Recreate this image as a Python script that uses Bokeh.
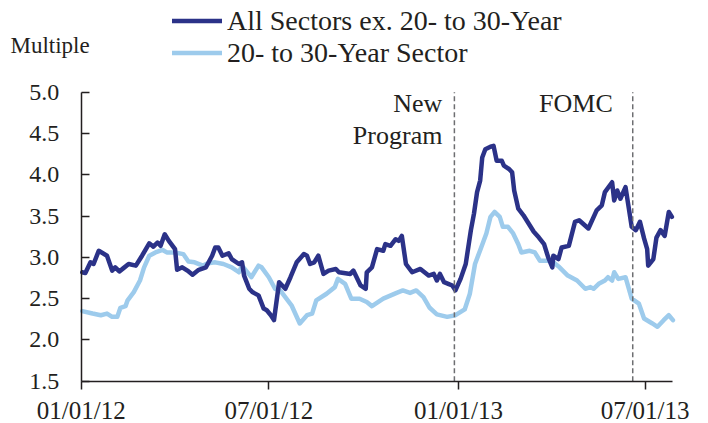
from datetime import datetime
import pandas as pd
from bokeh.plotting import figure
from bokeh.models import (Range1d, FixedTicker, DatetimeTickFormatter, Legend, LegendItem,
                          Label, NumeralTickFormatter)
from bokeh.embed import file_html
from bokeh.resources import INLINE

# ---------------- data ----------------
all_dates = [
    "2012-01-02", "2012-01-05", "2012-01-10", "2012-01-13", "2012-01-18", "2012-01-26", "2012-01-31",
    "2012-02-03", "2012-02-07", "2012-02-11", "2012-02-16", "2012-02-23", "2012-02-29",
    "2012-03-07", "2012-03-11", "2012-03-15", "2012-03-18", "2012-03-22", "2012-03-26",
    "2012-04-01", "2012-04-03", "2012-04-08", "2012-04-13", "2012-04-18", "2012-04-24",
    "2012-05-01", "2012-05-07", "2012-05-10", "2012-05-13", "2012-05-17", "2012-05-23", "2012-05-26",
    "2012-06-02", "2012-06-05", "2012-06-07", "2012-06-12", "2012-06-15", "2012-06-21", "2012-06-26", "2012-06-29",
    "2012-07-03", "2012-07-06", "2012-07-11", "2012-07-17", "2012-07-22", "2012-07-28",
    "2012-08-04", "2012-08-07", "2012-08-10", "2012-08-14", "2012-08-18", "2012-08-23", "2012-08-28",
    "2012-09-04", "2012-09-07", "2012-09-18", "2012-09-21", "2012-09-28",
    "2012-10-03", "2012-10-04", "2012-10-09", "2012-10-14", "2012-10-20", "2012-10-22", "2012-10-27",
    "2012-11-01", "2012-11-04", "2012-11-07", "2012-11-11", "2012-11-17", "2012-11-25",
    "2012-12-03", "2012-12-08", "2012-12-11", "2012-12-14", "2012-12-18", "2012-12-22", "2012-12-26", "2012-12-29",
    "2013-01-03", "2013-01-08", "2013-01-13", "2013-01-16", "2013-01-19", "2013-01-22", "2013-01-24", "2013-01-27",
    "2013-02-01", "2013-02-04", "2013-02-07", "2013-02-12", "2013-02-14", "2013-02-19", "2013-02-22", "2013-02-24", "2013-02-28",
    "2013-03-05", "2013-03-10", "2013-03-15", "2013-03-20", "2013-03-25", "2013-03-29",
    "2013-04-02", "2013-04-03", "2013-04-08", "2013-04-11", "2013-04-18", "2013-04-24", "2013-04-28",
    "2013-05-07", "2013-05-15", "2013-05-20", "2013-05-23", "2013-05-30",
    "2013-06-01", "2013-06-04", "2013-06-07", "2013-06-12", "2013-06-15", "2013-06-18", "2013-06-22", "2013-06-26", "2013-06-30",
    "2013-07-03", "2013-07-04", "2013-07-09", "2013-07-12", "2013-07-16", "2013-07-20", "2013-07-24", "2013-07-27",
]
all_values = [
    2.82, 2.81, 2.94, 2.92, 3.08, 3.02, 2.84,
    2.88, 2.83, 2.87, 2.92, 2.90, 3.02,
    3.17, 3.13, 3.18, 3.14, 3.28, 3.20,
    3.10, 2.85, 2.88, 2.84, 2.79, 2.85,
    2.88, 3.02, 3.12, 3.12, 3.02, 3.05, 2.98,
    2.92, 2.94, 2.78, 2.62, 2.58, 2.54, 2.38, 2.36,
    2.30, 2.24, 2.70, 2.62, 2.76, 2.94,
    3.04, 3.02, 2.92, 2.94, 3.02, 2.80, 2.84,
    2.86, 2.82, 2.80, 2.84, 2.66,
    2.62, 2.82, 2.88, 3.10, 3.08, 3.16, 3.14,
    3.22, 3.20, 3.26, 2.92, 2.82, 2.86,
    2.78, 2.80, 2.72, 2.80, 2.70, 2.68, 2.66, 2.60,
    2.74, 2.92, 3.33, 3.53, 3.79, 3.93, 4.21, 4.31,
    4.34, 4.35, 4.17, 4.17, 4.11, 4.07, 4.03, 3.81, 3.59,
    3.51, 3.41, 3.31, 3.24, 3.16, 3.00,
    2.88, 3.02, 2.98, 3.12, 3.14, 3.43, 3.45,
    3.35, 3.57, 3.63, 3.79, 3.91,
    3.69, 3.81, 3.71, 3.85, 3.61, 3.37, 3.33, 3.43, 3.23,
    3.10, 2.90, 2.98, 3.24, 3.33, 3.26, 3.55, 3.49,
]

sec_dates = [
    "2012-01-02", "2012-01-12", "2012-01-20", "2012-01-26", "2012-01-31",
    "2012-02-05", "2012-02-08", "2012-02-13", "2012-02-15", "2012-02-21", "2012-02-27",
    "2012-03-02", "2012-03-07", "2012-03-13", "2012-03-20", "2012-03-24",
    "2012-04-01", "2012-04-09", "2012-04-14", "2012-04-20", "2012-04-28",
    "2012-05-03", "2012-05-10", "2012-05-18", "2012-05-26",
    "2012-06-02", "2012-06-05", "2012-06-14", "2012-06-21", "2012-06-24",
    "2012-07-01", "2012-07-07", "2012-07-12", "2012-07-23", "2012-07-31",
    "2012-08-07", "2012-08-12", "2012-08-16", "2012-08-26",
    "2012-09-03", "2012-09-06", "2012-09-13", "2012-09-19", "2012-09-27",
    "2012-10-04", "2012-10-09", "2012-10-20",
    "2012-11-02", "2012-11-08", "2012-11-15", "2012-11-21", "2012-11-28",
    "2012-12-04", "2012-12-11", "2012-12-21", "2012-12-29",
    "2013-01-07", "2013-01-12", "2013-01-17", "2013-01-23", "2013-01-28",
    "2013-02-01", "2013-02-05", "2013-02-10", "2013-02-13", "2013-02-18", "2013-02-23", "2013-02-28",
    "2013-03-03", "2013-03-11", "2013-03-16", "2013-03-21", "2013-03-29",
    "2013-04-03", "2013-04-09", "2013-04-17", "2013-04-26",
    "2013-05-04", "2013-05-09", "2013-05-12", "2013-05-17", "2013-05-23", "2013-05-26", "2013-05-30",
    "2013-06-01", "2013-06-05", "2013-06-12", "2013-06-18", "2013-06-25", "2013-06-30",
    "2013-07-08", "2013-07-13", "2013-07-19", "2013-07-24", "2013-07-28",
]
sec_values = [
    2.35, 2.32, 2.30, 2.32, 2.28,
    2.28, 2.39, 2.41, 2.48, 2.58, 2.72,
    2.88, 3.02, 3.06, 3.09, 3.06,
    3.06, 3.04, 2.95, 2.94, 2.90,
    2.93, 2.94, 2.92, 2.88,
    2.82, 2.90, 2.76, 2.90, 2.88,
    2.76, 2.62, 2.60, 2.42, 2.20,
    2.30, 2.32, 2.48, 2.56,
    2.64, 2.74, 2.68, 2.50, 2.50,
    2.46, 2.41, 2.50,
    2.57, 2.60, 2.57, 2.60, 2.52,
    2.39, 2.31, 2.28, 2.30,
    2.37, 2.56, 2.92, 3.12, 3.29,
    3.49, 3.55, 3.49, 3.37, 3.37, 3.29, 3.16,
    3.06, 3.08, 3.06, 2.96, 2.96,
    2.94, 2.88, 2.78, 2.72,
    2.62, 2.64, 2.62, 2.68, 2.72, 2.76, 2.72,
    2.82, 2.74, 2.76, 2.50, 2.44, 2.26,
    2.20, 2.16, 2.24, 2.30, 2.24,
]

x_tick_dates = ["2012-01-01", "2012-07-01", "2013-01-01", "2013-07-01"]
x_axis_span = ["2012-01-01", "2013-07-27 12:00"]
y_ticks = [1.5, 2.0, 2.5, 3.0, 3.5, 4.0, 4.5, 5.0]
event_dates = ["2012-12-28", "2013-06-19"]
event_names = ["New\nProgram", "FOMC"]
label_all = "All Sectors ex. 20- to 30-Year"
label_sec = "20- to 30-Year Sector"
y_title = "Multiple"

DARK = "#2B3288"
LIGHT = "#9DCBEC"
TXT = "#231F20"
AX = "#231F20"
FONT = "Liberation Serif"
W, H = 708, 423

# The frame fills the whole canvas; the axes are pinned inside it so that the
# legend and the "Multiple" title (outside the axes box) are not clipped.
origin = pd.Timestamp(x_axis_span[0])
x_start = origin - pd.Timedelta(days=78.3)
x_end = origin + pd.Timedelta(days=608.5)
y_lo, y_hi = y_ticks[0], y_ticks[-1]

p = figure(width=W, height=H, x_axis_type="datetime", output_backend="svg",
           toolbar_location=None, tools="",
           x_range=Range1d(x_start, x_end), y_range=Range1d(0.989, 6.110),
           min_border=0)
p.outline_line_color = None
p.grid.visible = False
p.background_fill_color = "white"
p.border_fill_color = "white"

r_sec = p.line(pd.to_datetime(sec_dates), sec_values, line_color=LIGHT, line_width=4.5,
               line_join="round", line_cap="round")
r_all = p.line(pd.to_datetime(all_dates), all_values, line_color=DARK, line_width=4.5,
               line_join="round", line_cap="round")

ev = pd.to_datetime(event_dates)
p.segment(x0=ev, y0=[y_lo] * len(ev), x1=ev, y1=[y_hi] * len(ev),
          line_color="#6D6E71", line_width=1.5, line_dash="5 3")

p.add_layout(Label(x=ev[0], y=4.86, text="New", text_align="right", text_baseline="middle",
                   x_offset=-12, text_font=FONT, text_font_size="26px", text_color=TXT))
p.add_layout(Label(x=ev[0], y=4.48, text="Program", text_align="right", text_baseline="middle",
                   x_offset=-12, text_font=FONT, text_font_size="26px", text_color=TXT))
p.add_layout(Label(x=ev[1], y=4.86, text="FOMC", text_align="right", text_baseline="middle",
                   x_offset=-20, text_font=FONT, text_font_size="26px", text_color=TXT))

p.add_layout(Label(x=10, y=H - 45, x_units="screen", y_units="screen", text=y_title,
                   text_baseline="middle", text_font=FONT, text_font_size="23px", text_color=TXT))

# axes pinned at the data origin
p.xaxis.fixed_location = y_lo
p.yaxis.fixed_location = origin.value / 1e6
p.xaxis.bounds = (pd.Timestamp(x_axis_span[0]), pd.Timestamp(x_axis_span[1]))
p.yaxis.bounds = (y_lo, y_hi)
p.xaxis.ticker = FixedTicker(ticks=[pd.Timestamp(d).value / 1e6 for d in x_tick_dates])
fmt = "%m/%d/%y"
p.xaxis.formatter = DatetimeTickFormatter(milliseconds=fmt, seconds=fmt, minsec=fmt, minutes=fmt,
                                          hourmin=fmt, hours=fmt, days=fmt, months=fmt, years=fmt)
p.yaxis.ticker = FixedTicker(ticks=y_ticks)
p.yaxis.formatter = NumeralTickFormatter(format="0.0")
for ax in (p.xaxis, p.yaxis):
    ax.axis_line_color = AX
    ax.axis_line_width = 1.5
    ax.major_tick_line_color = AX
    ax.major_tick_line_width = 1.5
    ax.minor_tick_line_color = None
    ax.major_label_text_font = FONT
    ax.major_label_text_color = TXT
p.xaxis.major_label_text_font_size = "25px"
p.yaxis.major_label_text_font_size = "24px"
p.xaxis.major_tick_in = 0
p.xaxis.major_tick_out = 8
p.xaxis.major_label_standoff = 8
p.yaxis.major_tick_in = 8
p.yaxis.major_tick_out = 0
p.yaxis.major_label_standoff = 22

legend = Legend(items=[LegendItem(label=label_all, renderers=[r_all]),
                       LegendItem(label=label_sec, renderers=[r_sec])],
                location=(172, H - 68.5), orientation="vertical",
                border_line_color=None, background_fill_alpha=0,
                padding=0, margin=0, spacing=0, glyph_width=50, glyph_height=31,
                label_height=31, label_standoff=5,
                label_text_font=FONT, label_text_font_size="28px", label_text_color=TXT)
p.add_layout(legend, "center")

open("out.html", "w").write(file_html(p, INLINE))
